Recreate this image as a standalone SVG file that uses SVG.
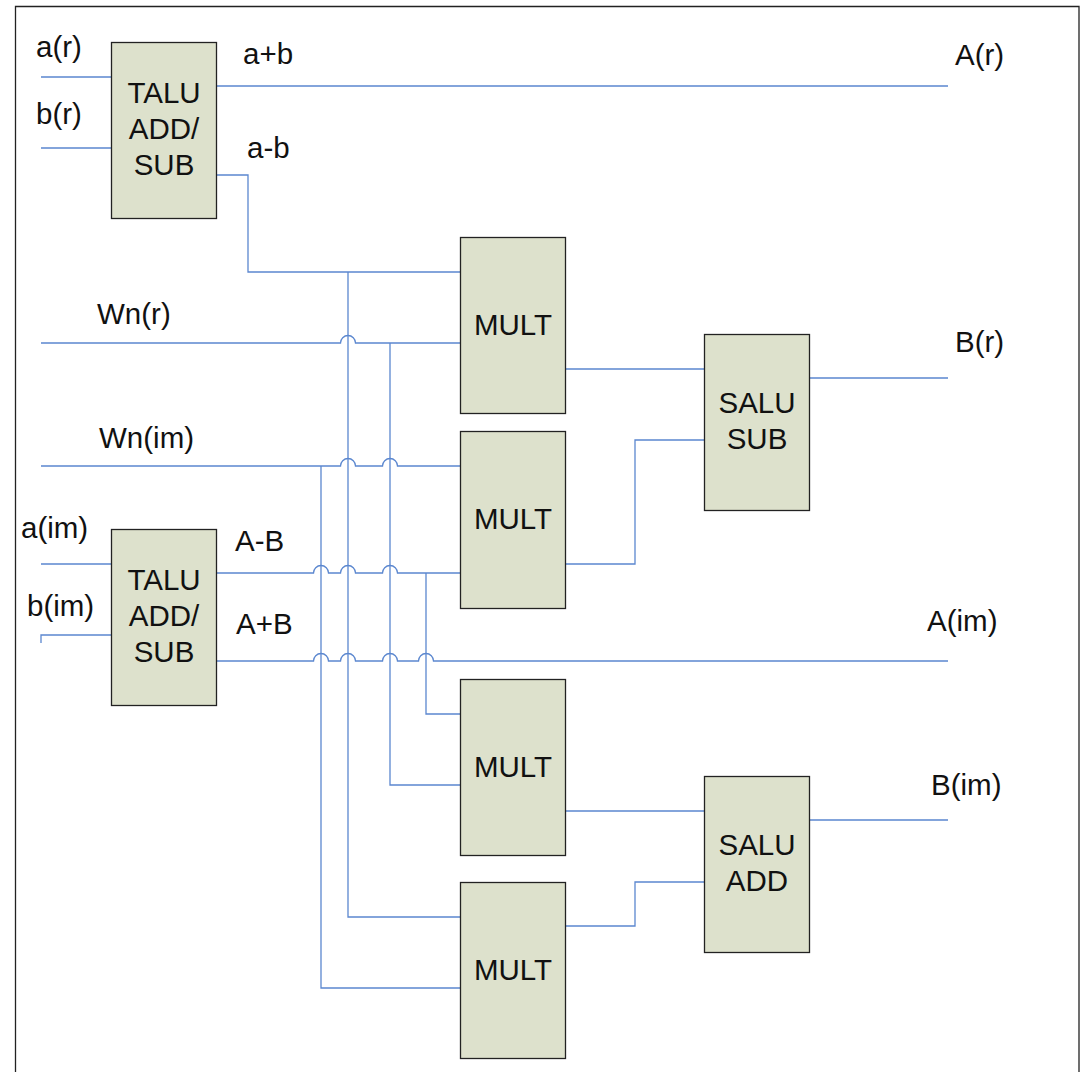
<svg xmlns="http://www.w3.org/2000/svg" width="1082" height="1072" viewBox="0 0 1082 1072">
<style>
text{font-family:"Liberation Sans",Arial,sans-serif;font-size:29.5px;fill:#111}
.c{text-anchor:middle}
.b{fill:#dde1cc;stroke:#222;stroke-width:1.3}
#connectors path{fill:none;stroke:#5b87cf;stroke-width:1.3}
</style>
<rect width="1082" height="1072" fill="#fff"/>
<path d="M15.5 1072V6.5H1079V1072" fill="none" stroke="#222" stroke-width="1.3"/>
<g id="connectors">
<path d="M41 77H111M41 148H111M216 86H948"/>
<path d="M216 175H248V272H460"/>
<path d="M348 272V917H460"/>
<path d="M41 343H340.500A7.500 7.500 0 0 1 355.500 343H460"/>
<path d="M390 343V785H460"/>
<path d="M41 466H340.500A7.500 7.500 0 0 1 355.500 466H382.500A7.500 7.500 0 0 1 397.500 466H460"/>
<path d="M321 466V988H460"/>
<path d="M216 573H313.500A7.500 7.500 0 0 1 328.500 573H340.500A7.500 7.500 0 0 1 355.500 573H382.500A7.500 7.500 0 0 1 397.500 573H460"/>
<path d="M426 573V714H460"/>
<path d="M216 661H313.500A7.500 7.500 0 0 1 328.500 661H340.500A7.500 7.500 0 0 1 355.500 661H382.500A7.500 7.500 0 0 1 397.500 661H418.500A7.500 7.500 0 0 1 433.500 661H948"/>
<path d="M41 564H111M41 643V635H111"/>
<path d="M565 369H704M565 564H635V440H704M809 378H948"/>
<path d="M565 811H704M565 926H635V882H704M809 820H948"/>
</g>
<g id="talu1"><rect class="b" x="111.500" y="42.500" width="105" height="176"/><text class="c" x="164" y="102.500">TALU</text><text class="c" x="164" y="138.500">ADD/</text><text class="c" x="164" y="174.500">SUB</text></g>
<g id="talu2"><rect class="b" x="111.500" y="529.500" width="105" height="176"/><text class="c" x="164" y="589.500">TALU</text><text class="c" x="164" y="625.500">ADD/</text><text class="c" x="164" y="661.500">SUB</text></g>
<g id="mult1"><rect class="b" x="460.500" y="237.500" width="105" height="176"/><text class="c" x="513" y="335">MULT</text></g>
<g id="mult2"><rect class="b" x="460.500" y="431.500" width="105" height="177"/><text class="c" x="513" y="529">MULT</text></g>
<g id="mult3"><rect class="b" x="460.500" y="679.500" width="105" height="176"/><text class="c" x="513" y="777">MULT</text></g>
<g id="mult4"><rect class="b" x="460.500" y="882.500" width="105" height="176"/><text class="c" x="513" y="980">MULT</text></g>
<g id="salu1"><rect class="b" x="704.500" y="334.500" width="105" height="176"/><text class="c" x="757" y="413">SALU</text><text class="c" x="757" y="449">SUB</text></g>
<g id="salu2"><rect class="b" x="704.500" y="776.500" width="105" height="176"/><text class="c" x="757" y="855">SALU</text><text class="c" x="757" y="891">ADD</text></g>
<g id="labels">
<text x="36" y="57">a(r)</text><text x="36" y="124">b(r)</text>
<text x="243" y="64">a+b</text><text x="247" y="158">a-b</text>
<text x="97" y="324">Wn(r)</text><text x="99" y="448">Wn(im)</text>
<text x="21" y="538">a(im)</text><text x="27" y="616">b(im)</text>
<text x="235" y="551">A-B</text><text x="236" y="634">A+B</text>
<text x="955" y="65">A(r)</text><text x="955" y="352">B(r)</text>
<text x="927" y="631">A(im)</text><text x="931" y="795">B(im)</text>
</g>
</svg>
